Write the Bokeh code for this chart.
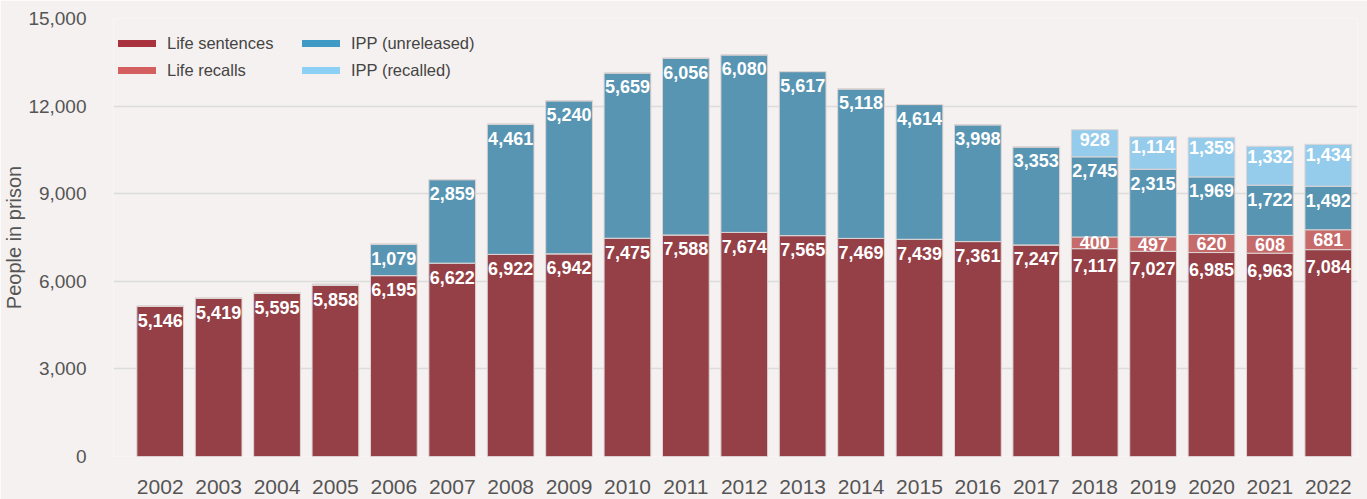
import numpy as np
from bokeh.plotting import figure
from bokeh.models import ColumnDataSource, FixedTicker, NumeralTickFormatter, Legend, LegendItem
from bokeh.core.properties import value
from bokeh.embed import file_html
from bokeh.resources import INLINE

years = list(range(2002, 2023))
life_sentences = [5146, 5419, 5595, 5858, 6195, 6622, 6922, 6942, 7475, 7588, 7674,
                  7565, 7469, 7439, 7361, 7247, 7117, 7027, 6985, 6963, 7084]
life_recalls = [0, 0, 0, 0, 0, 0, 0, 0, 0, 0, 0, 0, 0, 0, 0, 0, 400, 497, 620, 608, 681]
ipp_unreleased = [0, 0, 0, 40, 1079, 2859, 4461, 5240, 5659, 6056, 6080,
                  5617, 5118, 4614, 3998, 3353, 2745, 2315, 1969, 1722, 1492]
ipp_recalled = [0, 0, 0, 0, 0, 0, 0, 0, 0, 0, 0, 0, 0, 0, 0, 0, 928, 1114, 1359, 1332, 1434]
y_ticks = [0, 3000, 6000, 9000, 12000, 15000]

series = ["life_sentences", "life_recalls", "ipp_unreleased", "ipp_recalled"]
names = ["Life sentences", "Life recalls", "IPP (unreleased)", "IPP (recalled)"]
colors = ["#953f46", "#c66a6a", "#5895b2", "#95cbeb"]
legend_colors = ["#a8323e", "#d45f60", "#3f9bc6", "#8dd0f5"]
BG = "#f5f1f0"
FONT = "Liberation Sans"

src = ColumnDataSource(dict(year=years, life_sentences=life_sentences, life_recalls=life_recalls,
                            ipp_unreleased=ipp_unreleased, ipp_recalled=ipp_recalled))

p = figure(width=1367, height=499, output_backend="svg", toolbar_location=None,
           x_range=(2001.2, 2022.5), y_range=(0, 15000),
           min_border_left=113, min_border_right=10, min_border_top=18, min_border_bottom=43,
           background_fill_color=BG, border_fill_color=BG, outline_line_color=None)

p.vbar_stack(series, x="year", width=0.8, source=src, color=colors,
             line_color="#ddd4d4", line_width=1)

# labels
vals = np.array([life_sentences, life_recalls, ipp_unreleased, ipp_recalled], dtype=float)
tops = np.cumsum(vals, axis=0)
rec = vals[1]
lx, ly, lt, lo = [], [], [], []
for i in range(vals.shape[0]):
    for j, yr in enumerate(years):
        if vals[i, j] >= 300:
            lx.append(yr)
            lt.append(f"{int(vals[i, j]):,}")
            if i == 1:
                ly.append(tops[i, j] - vals[i, j] / 2)
                lo.append(0)
            else:
                ly.append(tops[i, j])
                if i == 0 and rec[j] > 0:
                    lo.append(17)
                elif i == 3:
                    lo.append(10)
                else:
                    lo.append(14)
lsrc = ColumnDataSource(dict(x=lx, y=ly, t=lt, o=lo))
p.text(x="x", y="y", text="t", y_offset="o", source=lsrc, text_align="center",
       text_baseline="middle", text_color="white", text_font=value(FONT),
       text_font_style="bold", text_font_size="18px")

# legend
nan_vals = [np.nan] * len(years)
items = []
for n, c in zip(names, legend_colors):
    r = p.line(x=years, y=nan_vals, line_color=c, line_width=7, line_cap="round")
    items.append(LegendItem(label=n, renderers=[r]))
legend = Legend(items=items, ncols=2,
                glyph_width=38, glyph_height=20, label_height=20, spacing=7, label_standoff=11,
                label_width=128, margin=0, padding=5,
                border_line_color=None, background_fill_alpha=0,
                label_text_font=FONT, label_text_font_size="16.5px", label_text_color="#444444")
legend.location = (5, 376)
p.add_layout(legend)

p.xaxis.ticker = FixedTicker(ticks=years)
p.xaxis.major_label_text_font = FONT
p.xaxis.major_label_text_font_size = "21px"
p.xaxis.major_label_text_color = "#555555"
p.xaxis.major_label_standoff = 17
p.xaxis.axis_line_color = None
p.xaxis.major_tick_line_color = None
p.xaxis.minor_tick_line_color = None

p.yaxis.ticker = FixedTicker(ticks=y_ticks)
p.yaxis.formatter = NumeralTickFormatter(format="0,0")
p.yaxis.major_label_text_font = FONT
p.yaxis.major_label_text_font_size = "19px"
p.yaxis.major_label_text_color = "#555555"
p.yaxis.major_label_standoff = 21
p.yaxis.axis_line_color = None
p.yaxis.major_tick_line_color = None
p.yaxis.minor_tick_line_color = None
p.yaxis.axis_label = "People in prison"
p.yaxis.axis_label_text_font = FONT
p.yaxis.axis_label_text_font_size = "20px"
p.yaxis.axis_label_text_font_style = "normal"
p.yaxis.axis_label_text_color = "#555555"
p.yaxis.axis_label_standoff = 0

p.xgrid.grid_line_color = None
p.ygrid.grid_line_color = "#dcdcdc"
p.ygrid.grid_line_width = 1.5

open("out.html", "w").write(file_html(p, INLINE))
